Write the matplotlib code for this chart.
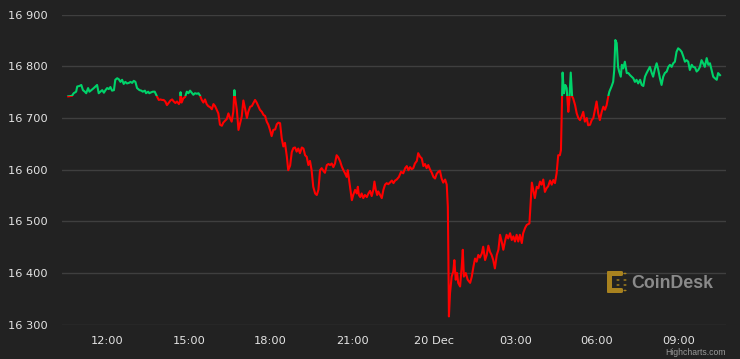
import matplotlib
matplotlib.use("Agg")
from matplotlib import pyplot as plt
from matplotlib.patches import Rectangle, FancyBboxPatch, Circle
from matplotlib.ticker import FuncFormatter

# BTC price, hours counted from 00:00 on 19 Dec
t_hours = [
    10.56, 10.70, 10.76, 10.85, 10.89, 10.97, 11.04, 11.10, 11.17, 11.22,
    11.29, 11.34, 11.41, 11.50, 11.56, 11.62, 11.68, 11.74, 11.81, 11.87,
    11.93, 11.99, 12.05, 12.11, 12.17, 12.24, 12.29, 12.36, 12.42, 12.48,
    12.54, 12.60, 12.66, 12.72, 12.79, 12.85, 12.91, 12.97, 13.03, 13.09,
    13.18, 13.25, 13.30, 13.38, 13.42, 13.50, 13.54, 13.62, 13.67, 13.74,
    13.83, 13.89, 13.95, 14.01, 14.07, 14.13, 14.19, 14.26, 14.32, 14.38,
    14.44, 14.50, 14.56, 14.63, 14.67, 14.69, 14.73, 14.79, 14.86, 14.92,
    14.98, 15.04, 15.10, 15.16, 15.22, 15.29, 15.35, 15.41, 15.47, 15.53,
    15.59, 15.65, 15.71, 15.78, 15.84, 15.90, 15.96, 16.02, 16.08, 16.14,
    16.21, 16.26, 16.33, 16.39, 16.45, 16.51, 16.57, 16.63, 16.67, 16.70,
    16.76, 16.82, 16.88, 16.94, 17.00, 17.06, 17.13, 17.18, 17.25, 17.31,
    17.37, 17.43, 17.49, 17.55, 17.61, 17.68, 17.74, 17.80, 17.86, 17.92,
    17.98, 18.04, 18.10, 18.17, 18.23, 18.29, 18.35, 18.41, 18.47, 18.53,
    18.60, 18.65, 18.72, 18.78, 18.84, 18.90, 18.96, 19.02, 19.08, 19.15,
    19.21, 19.27, 19.33, 19.39, 19.45, 19.51, 19.57, 19.64, 19.70, 19.76,
    19.82, 19.88, 19.94, 20.00, 20.07, 20.13, 20.19, 20.25, 20.31, 20.37,
    20.43, 20.49, 20.56, 20.62, 20.68, 20.74, 20.80, 20.84, 20.89, 20.93,
    20.99, 21.04, 21.11, 21.17, 21.21, 21.25, 21.30, 21.35, 21.41, 21.47,
    21.54, 21.60, 21.66, 21.72, 21.78, 21.82, 21.87, 21.92, 21.96, 22.03,
    22.09, 22.15, 22.21, 22.27, 22.33, 22.39, 22.46, 22.52, 22.58, 22.64,
    22.72, 22.80, 22.88, 22.95, 23.01, 23.07, 23.13, 23.19, 23.25, 23.31,
    23.38, 23.43, 23.50, 23.56, 23.62, 23.68, 23.74, 23.80, 23.86, 23.93,
    23.99, 24.05, 24.11, 24.17, 24.23, 24.29, 24.35, 24.42, 24.48, 24.52,
    24.54, 24.56, 24.60, 24.66, 24.72, 24.76, 24.81, 24.86, 24.90, 24.97,
    25.03, 25.07, 25.11, 25.18, 25.25, 25.34, 25.40, 25.46, 25.52, 25.58,
    25.64, 25.70, 25.77, 25.82, 25.89, 25.95, 26.01, 26.07, 26.13, 26.19,
    26.25, 26.32, 26.38, 26.44, 26.50, 26.56, 26.62, 26.68, 26.74, 26.81,
    26.87, 26.93, 26.99, 27.05, 27.11, 27.17, 27.24, 27.29, 27.36, 27.42,
    27.52, 27.57, 27.61, 27.66, 27.72, 27.79, 27.85, 27.91, 27.97, 28.03,
    28.09, 28.15, 28.21, 28.28, 28.34, 28.40, 28.46, 28.52, 28.58, 28.64,
    28.68, 28.72, 28.74, 28.79, 28.84, 28.89, 28.95, 28.99, 29.04, 29.09,
    29.13, 29.20, 29.26, 29.32, 29.38, 29.44, 29.50, 29.56, 29.63, 29.68,
    29.75, 29.81, 29.87, 29.93, 29.99, 30.05, 30.11, 30.18, 30.24, 30.30,
    30.36, 30.42, 30.46, 30.54, 30.60, 30.64, 30.68, 30.73, 30.78, 30.82,
    30.88, 30.92, 30.97, 31.03, 31.10, 31.16, 31.22, 31.28, 31.34, 31.40,
    31.46, 31.52, 31.59, 31.65, 31.71, 31.77, 31.83, 31.89, 31.95, 32.02,
    32.07, 32.14, 32.20, 32.26, 32.32, 32.38, 32.44, 32.50, 32.57, 32.63,
    32.69, 32.75, 32.81, 32.87, 32.93, 32.99, 33.06, 33.12, 33.18, 33.24,
    33.30, 33.36, 33.42, 33.49, 33.54, 33.61, 33.67, 33.73, 33.79, 33.85,
    33.91, 33.97, 34.04, 34.10, 34.16, 34.22, 34.28, 34.34, 34.41, 34.46, 34.53,
]
price = [
    16742, 16743, 16748, 16751, 16761, 16762, 16764, 16754, 16751, 16748,
    16758, 16751, 16754, 16758, 16761, 16764, 16748, 16751, 16754, 16749,
    16754, 16758, 16756, 16760, 16753, 16754, 16774, 16777, 16775, 16770,
    16774, 16766, 16770, 16767, 16768, 16770, 16768, 16772, 16770, 16758,
    16754, 16753, 16751, 16753, 16748, 16751, 16748, 16750, 16751, 16751,
    16741, 16735, 16736, 16735, 16735, 16732, 16725, 16730, 16734, 16736,
    16732, 16729, 16732, 16727, 16732, 16750, 16730, 16738, 16741, 16751,
    16748, 16753, 16749, 16745, 16748, 16747, 16748, 16743, 16735, 16730,
    16736, 16727, 16723, 16721, 16717, 16727, 16723, 16716, 16709, 16687,
    16685, 16691, 16695, 16698, 16709, 16700, 16693, 16712, 16754, 16738,
    16716, 16677, 16690, 16703, 16734, 16719, 16700, 16712, 16722, 16723,
    16729, 16735, 16730, 16723, 16716, 16712, 16706, 16704, 16693, 16687,
    16677, 16665, 16677, 16678, 16688, 16691, 16690, 16661, 16645, 16652,
    16625, 16599, 16608, 16634, 16642, 16643, 16635, 16641, 16632, 16643,
    16641, 16628, 16625, 16609, 16617, 16599, 16567, 16554, 16551, 16561,
    16599, 16603, 16598, 16594, 16609, 16611, 16609, 16612, 16605, 16612,
    16628, 16624, 16616, 16606, 16599, 16593, 16586, 16599, 16580, 16564,
    16541, 16551, 16561, 16554, 16567, 16551, 16547, 16554, 16545, 16551,
    16547, 16554, 16559, 16549, 16561, 16577, 16561, 16551, 16558, 16551,
    16545, 16561, 16571, 16574, 16572, 16575, 16579, 16574, 16579, 16581,
    16586, 16596, 16593, 16603, 16607, 16599, 16605, 16601, 16603, 16612,
    16617, 16632, 16625, 16622, 16607, 16611, 16603, 16609, 16601, 16594,
    16586, 16583, 16592, 16596, 16598, 16583, 16575, 16581, 16571, 16528,
    16432, 16316, 16361, 16393, 16403, 16425, 16387, 16400, 16381, 16374,
    16412, 16445, 16393, 16400, 16387, 16381, 16393, 16412, 16428, 16422,
    16435, 16430, 16438, 16451, 16425, 16435, 16453, 16441, 16435, 16425,
    16409, 16435, 16445, 16474, 16461, 16445, 16461, 16474, 16467, 16477,
    16464, 16471, 16461, 16474, 16461, 16474, 16458, 16477, 16487, 16493,
    16496, 16541, 16575, 16561, 16545, 16567, 16564, 16577, 16571, 16581,
    16557, 16564, 16568, 16579, 16571, 16580, 16574, 16593, 16628, 16628,
    16638, 16735, 16788, 16748, 16764, 16758, 16712, 16735, 16788, 16742,
    16738, 16725, 16709, 16700, 16696, 16703, 16712, 16693, 16700, 16686,
    16687, 16696, 16700, 16716, 16732, 16709, 16696, 16712, 16722, 16716,
    16725, 16742, 16751, 16761, 16770, 16793, 16851, 16845, 16799, 16790,
    16780, 16803, 16796, 16809, 16787, 16787, 16783, 16780, 16777, 16770,
    16774, 16767, 16774, 16764, 16762, 16780, 16787, 16793, 16799, 16787,
    16780, 16796, 16806, 16793, 16777, 16764, 16780, 16787, 16790, 16799,
    16803, 16799, 16806, 16809, 16828, 16835, 16832, 16828, 16819, 16809,
    16812, 16809, 16793, 16803, 16799, 16798, 16790, 16793, 16799, 16812,
    16806, 16799, 16816, 16803, 16806, 16793, 16780, 16777, 16774, 16787, 16783,
]
open_price = 16742.5  # colour switches at the opening price

x_ticks = [12, 15, 18, 21, 24, 27, 30, 33]
x_labels = ['12:00', '15:00', '18:00', '21:00', '20 Dec', '03:00', '06:00', '09:00']
y_ticks = [16300, 16400, 16500, 16600, 16700, 16800, 16900]

bg = '#222222'
green = '#00d36a'
red = '#ff0000'
txt = '#e4e4e4'

fig = plt.figure(figsize=(7.4, 3.59), dpi=100, facecolor=bg)
ax = fig.add_axes([62 / 740, 1 - 324.7 / 359, 664 / 740, 310 / 359])
ax.set_facecolor(bg)

x0, x1 = 10.33, 34.75
y0, y1 = 16300, 16900
ax.set_xlim(x0, x1)
ax.set_ylim(y0, y1)

up, = ax.plot(t_hours, price, color=green, lw=1.5, solid_joinstyle='round', zorder=3)
dn, = ax.plot(t_hours, price, color=red, lw=1.5, solid_joinstyle='round', zorder=3)
up.set_clip_path(Rectangle((x0, open_price), x1 - x0, 200, transform=ax.transData))
dn.set_clip_path(Rectangle((x0, y0 - 50), x1 - x0, open_price - y0 + 50, transform=ax.transData))

for s in ax.spines.values():
    s.set_visible(False)
ax.set_yticks(y_ticks)
ax.yaxis.set_major_formatter(FuncFormatter(lambda v, p: f"{int(v):,}".replace(",", " ")))
ax.grid(axis='y', color='#3f3f3f', lw=1)
ax.set_axisbelow(True)
ax.set_xticks(x_ticks)
ax.set_xticklabels(x_labels)
ax.tick_params(axis='y', length=0, pad=10, labelsize=8.2, labelcolor=txt)
ax.tick_params(axis='x', length=0, pad=8, labelsize=8.2, labelcolor=txt)

# CoinDesk watermark
gold = '#a8821f'
for (px, py, w, h) in [(607, 271, 5, 22), (607, 271, 16, 5), (607, 288, 16, 5)]:
    fig.patches.append(FancyBboxPatch((px / 740, 1 - (py + h) / 359), w / 740, h / 359,
                                      boxstyle='round,pad=0,rounding_size=0.003',
                                      transform=fig.transFigure, color=gold, lw=0))
for (cx, cy) in [(625, 273.5), (625, 290.5), (618, 280), (618, 285), (625, 280), (625, 285)]:
    fig.patches.append(Circle((cx / 740, 1 - cy / 359), 1.6 / 740, transform=fig.transFigure,
                              color=gold, lw=0))
fig.text(631 / 740, 1 - 283 / 359, 'CoinDesk', family='Liberation Sans', weight='bold',
         fontsize=12.8, color='#8a8a8a', va='center', ha='left')
fig.text(726 / 740, 1 - 352.5 / 359, 'Highcharts.com', family='Liberation Sans',
         fontsize=6.2, color='#9a9a9a', va='center', ha='right')

fig.savefig('out.png', dpi=100, facecolor=bg)
